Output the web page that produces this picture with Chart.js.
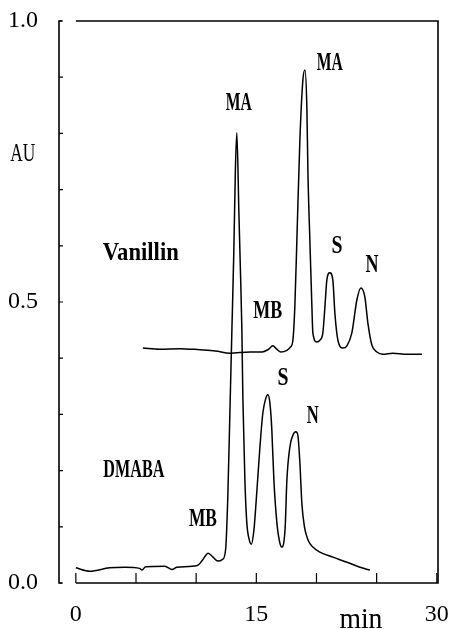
<!DOCTYPE html>
<html>
<head>
<meta charset="utf-8">
<script src="https://cdn.jsdelivr.net/npm/chart.js@4.4.1/dist/chart.umd.min.js"></script>
<style>
  html, body { margin: 0; padding: 0; background: #fff; }
  #wrap { width: 449px; height: 630px; }
</style>
</head>
<body>
<div id="wrap"><canvas id="c" width="449" height="630"></canvas></div>
<script>
// ---- Data (retention time in min, absorbance in AU) ----
const dmabaTime = [0, 1.16, 2.8, 4.1, 5.3, 5.5, 5.8, 7.4, 8.0, 8.4, 10.1, 10.5, 11.0, 11.4, 11.8, 12.2, 12.45,
  12.63, 12.80, 12.97, 13.13, 13.26, 13.38, 13.55, 13.68, 13.80, 13.88, 14.05, 14.21, 14.40, 14.58,
  14.80, 15.05, 15.30, 15.54, 15.79, 15.96, 16.13, 16.29, 16.46, 16.71, 16.96, 17.12,
  17.40, 17.54, 17.79, 18.04, 18.29, 18.45, 18.62, 18.79, 19.00, 19.29, 19.70, 20.28, 21.36, 22.53, 23.61, 24.44];
const dmabaAU = [0.027, 0.021, 0.027, 0.028, 0.026, 0.023, 0.029, 0.030, 0.024, 0.028, 0.031, 0.040, 0.053, 0.046, 0.039, 0.042, 0.060,
  0.153, 0.300, 0.450, 0.590, 0.735, 0.801, 0.660, 0.555, 0.450, 0.331, 0.183, 0.107, 0.078, 0.069,
  0.094, 0.165, 0.242, 0.302, 0.329, 0.335, 0.320, 0.272, 0.183, 0.107, 0.071, 0.064,
  0.100, 0.183, 0.242, 0.263, 0.269, 0.263, 0.214, 0.140, 0.100, 0.077, 0.064, 0.055, 0.046, 0.037, 0.028, 0.023];

const vanTime = [5.57, 6.98, 8.65, 10.31, 11.6, 12.80, 14.46, 15.46, 15.96, 16.38, 16.70, 17.04, 17.54, 17.85,
  18.04, 18.20, 18.37, 18.62, 18.87, 19.04, 19.20, 19.29, 19.45, 19.62, 19.70, 20.03, 20.28, 20.53,
  20.70, 20.86, 21.11, 21.36, 21.53, 21.78, 22.19, 22.53, 22.94, 23.36, 23.69, 24.02, 24.27, 24.61,
  25.02, 25.52, 26.35, 27.51, 28.76];
const vanAU = [0.418, 0.416, 0.417, 0.415, 0.413, 0.409, 0.411, 0.411, 0.415, 0.422, 0.416, 0.411, 0.414, 0.420,
  0.432, 0.491, 0.610, 0.788, 0.895, 0.913, 0.847, 0.730, 0.610, 0.491, 0.445, 0.429, 0.432, 0.445,
  0.491, 0.539, 0.552, 0.539, 0.480, 0.432, 0.418, 0.422, 0.445, 0.504, 0.525, 0.509, 0.463, 0.423,
  0.411, 0.407, 0.409, 0.407, 0.407];

const xTickValues = [0, 5, 10, 15, 20, 25, 30];
const xTickLabels = ['0', '', '', '15', '', '', '30'];
const yTickValues = [0, 0.1, 0.2, 0.3, 0.4, 0.5, 0.6, 0.7, 0.8, 0.9, 1.0];
const yTickLabels = ['0.0', '', '', '', '', '0.5', '', '', '', '', '1.0'];

// Peak / trace annotations (text anchored at data coordinates, baseline)
const notes = [
  { text: 'MA',       x: 21.11, y: 0.913, w: 26, bold: true },
  { text: 'MA',       x: 13.55, y: 0.842, w: 26, bold: true },
  { text: 'S',        x: 21.70, y: 0.587, w: 11, bold: true },
  { text: 'N',        x: 24.61, y: 0.553, w: 13, bold: true },
  { text: 'MB',       x: 15.96, y: 0.472, w: 29, bold: true },
  { text: 'Vanillin', x: 5.40,  y: 0.575, w: 76, bold: true },
  { text: 'S',        x: 17.21, y: 0.352, w: 11, bold: true },
  { text: 'N',        x: 19.70, y: 0.285, w: 12, bold: true },
  { text: 'DMABA',    x: 4.82,  y: 0.189, w: 61, bold: true },
  { text: 'MB',       x: 10.56, y: 0.102, w: 28, bold: true },
  { text: 'AU',       x: -4.41, y: 0.751, w: 25, bold: false, size: 26 },
  { text: 'min',      x: 23.69, y: -0.080, w: 43, bold: false, size: 30 }
];

const FONT = '"Liberation Serif", "Times New Roman", Times, serif';

const toXY = (xs, ys) => xs.map((x, i) => ({ x: x, y: ys[i] }));

const framePlugin = {
  id: 'frame',
  afterDraw(chart) {
    const ctx = chart.ctx;
    const a = chart.chartArea;
    const xs = chart.scales.x, ys = chart.scales.y;
    const x0 = xs.getPixelForValue(0);
    ctx.save();
    ctx.strokeStyle = '#000';
    ctx.lineWidth = 1.6;
    ctx.beginPath();
    // left bracket
    ctx.moveTo(a.left + 3, a.bottom);
    ctx.lineTo(a.left, a.bottom);
    ctx.lineTo(a.left, a.top);
    ctx.lineTo(a.left + 3, a.top);
    // top, right, bottom
    ctx.moveTo(x0, a.top);
    ctx.lineTo(a.right, a.top);
    ctx.lineTo(a.right, a.bottom);
    ctx.lineTo(x0, a.bottom);
    ctx.stroke();
    ctx.lineWidth = 1.2;
    ctx.beginPath();
    yTickValues.forEach(v => {
      const py = ys.getPixelForValue(v);
      ctx.moveTo(a.left, py);
      ctx.lineTo(a.left + 4, py);
    });
    xTickValues.forEach(v => {
      const px = xs.getPixelForValue(v);
      ctx.moveTo(px, a.bottom);
      ctx.lineTo(px, a.bottom - 10);
    });
    ctx.stroke();
    ctx.fillStyle = '#000';
    ctx.textAlign = 'center';
    ctx.textBaseline = 'alphabetic';
    notes.forEach(n => {
      const size = n.size || 26;
      ctx.font = (n.bold ? 'bold ' : '') + size + 'px ' + FONT;
      const mw = ctx.measureText(n.text).width;
      const s = n.w / mw;
      ctx.save();
      ctx.translate(xs.getPixelForValue(n.x), ys.getPixelForValue(n.y));
      ctx.scale(s, 1);
      ctx.fillText(n.text, 0, 0);
      ctx.restore();
    });
    ctx.restore();
  }
};

new Chart(document.getElementById('c'), {
  type: 'line',
  data: {
    datasets: [
      { label: 'DMABA', data: toXY(dmabaTime, dmabaAU) },
      { label: 'Vanillin', data: toXY(vanTime, vanAU) }
    ]
  },
  options: {
    responsive: false,
    animation: false,
    events: [],
    layout: { padding: { top: 21, right: 11, left: 0, bottom: 0 } },
    elements: {
      point: { radius: 0 },
      line: { borderColor: '#000', borderWidth: 1.5, cubicInterpolationMode: 'monotone', fill: false }
    },
    plugins: { legend: { display: false }, tooltip: { enabled: false } },
    scales: {
      x: {
        type: 'linear',
        min: -1.4,
        max: 30.1,
        afterBuildTicks: s => { s.ticks = xTickValues.map(v => ({ value: v })); },
        afterFit: s => { s.height = 47; s.paddingLeft = 0; s.paddingRight = 0; },
        grid: { display: false, drawTicks: false },
        border: { display: false },
        ticks: {
          autoSkip: false,
          maxRotation: 0,
          padding: 17,
          color: '#000',
          font: { family: FONT, size: 24 },
          callback: (v) => { const i = xTickValues.indexOf(v); return i >= 0 ? xTickLabels[i] : ''; }
        }
      },
      y: {
        type: 'linear',
        min: 0,
        max: 1,
        afterBuildTicks: s => { s.ticks = yTickValues.map(v => ({ value: v })); },
        afterFit: s => { s.width = 59; s.paddingTop = 0; s.paddingBottom = 0; },
        grid: { display: false, drawTicks: false },
        border: { display: false },
        ticks: {
          autoSkip: false,
          padding: 21,
          color: '#000',
          font: { family: FONT, size: 24 },
          callback: (v) => {
            const i = yTickValues.findIndex(t => Math.abs(t - v) < 1e-6);
            return i >= 0 ? yTickLabels[i] : '';
          }
        }
      }
    }
  },
  plugins: [framePlugin]
});
</script>
</body>
</html>
